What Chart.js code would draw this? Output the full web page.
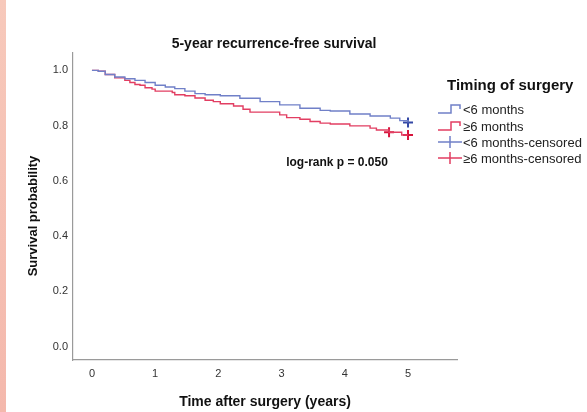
<!DOCTYPE html>
<html>
<head>
<meta charset="utf-8">
<script src="https://cdn.jsdelivr.net/npm/chart.js@4"></script>
<style>
  body { margin: 0; background: #fff; }
  canvas { display: block; }
</style>
</head>
<body>
<canvas id="kmChart" width="587" height="412"></canvas>
<script>
// values
var chartTitle = '5-year recurrence-free survival';
var xTitle = 'Time after surgery (years)';
var yTitle = 'Survival probability';
var legendTitle = 'Timing of surgery';
var legendLabels = ['<6 months', '\u22656 months', '<6 months-censored', '\u22656 months-censored'];
var pText = 'log-rank p = 0.050';

var xTicks = [0, 1, 2, 3, 4, 5];
var yTicks = [0, 0.2, 0.4, 0.6, 0.8, 1.0];

var earlyTimes = [0, 0.10, 0.21, 0.36, 0.52, 0.68, 0.84, 1.00, 1.16, 1.31, 1.47, 1.63, 1.79, 2.03, 2.34, 2.66, 2.97, 3.29, 3.61, 3.77, 4.08, 4.40, 4.72, 4.87, 5.00];
var earlySurv = [1.0, 0.997, 0.985, 0.976, 0.970, 0.964, 0.956, 0.946, 0.940, 0.934, 0.925, 0.916, 0.912, 0.908, 0.899, 0.887, 0.875, 0.863, 0.855, 0.853, 0.842, 0.835, 0.827, 0.818, 0.811];

var lateTimes = [0, 0.10, 0.21, 0.36, 0.52, 0.60, 0.68, 0.76, 0.84, 0.95, 1.00, 1.27, 1.31, 1.47, 1.63, 1.79, 1.92, 2.03, 2.24, 2.39, 2.50, 2.97, 3.08, 3.29, 3.45, 3.61, 3.77, 4.08, 4.40, 4.50, 4.70, 4.90, 5.00];
var lateSurv = [1.0, 0.997, 0.985, 0.973, 0.964, 0.956, 0.949, 0.946, 0.937, 0.932, 0.925, 0.920, 0.912, 0.908, 0.900, 0.892, 0.887, 0.879, 0.871, 0.859, 0.849, 0.839, 0.829, 0.823, 0.815, 0.809, 0.806, 0.799, 0.791, 0.784, 0.776, 0.766, 0.766];

var earlyCensorTimes = [5.00];
var earlyCensorSurv = [0.811];
var lateCensorTimes = [4.70, 5.00];
var lateCensorSurv = [0.776, 0.766];

var blueLine = 'rgb(112,128,200)';
var redLine = 'rgb(226,62,98)';
var blueMark = 'rgb(52,72,165)';
var redMark = 'rgb(215,20,60)';

function pts(xs, ys) {
    return xs.map(function (x, i) { return {x: x, y: ys[i]}; });
}

var textPlugin = {
    id: 'kmText',
    beforeDraw: function (chart) {
        var ctx = chart.ctx;
        var g = ctx.createLinearGradient(0, 0, 0, 412);
        g.addColorStop(0, '#f7c9bb');
        g.addColorStop(1, '#f4b8ac');
        ctx.save();
        ctx.fillStyle = g;
        ctx.fillRect(0, 0, 6, 412);
        ctx.restore();
    },
    afterDraw: function (chart) {
        var ctx = chart.ctx;
        ctx.save();
        ctx.fillStyle = '#111';
        ctx.textAlign = 'center';
        ctx.textBaseline = 'middle';

        ctx.font = 'bold 14px "Liberation Sans", Arial, sans-serif';
        ctx.fillText(chartTitle, 274, 44);

        ctx.font = 'bold 14px "Liberation Sans", Arial, sans-serif';
        ctx.fillText(xTitle, 265, 402);

        ctx.save();
        ctx.translate(33, 216);
        ctx.rotate(-Math.PI / 2);
        ctx.font = 'bold 13px "Liberation Sans", Arial, sans-serif';
        ctx.fillText(yTitle, 0, 0);
        ctx.restore();

        ctx.font = 'bold 12px "Liberation Sans", Arial, sans-serif';
        ctx.fillText(pText, 337, 163);

        // legend
        ctx.textAlign = 'left';
        ctx.font = 'bold 15px "Liberation Sans", Arial, sans-serif';
        ctx.fillText(legendTitle, 447, 86);

        ctx.font = '13px "Liberation Sans", Arial, sans-serif';
        var rows = [109, 126, 142, 158];
        var cols = [blueLine, redLine, blueLine, redLine];
        legendLabels.forEach(function (lab, i) {
            var y = rows[i];
            ctx.strokeStyle = cols[i];
            ctx.lineWidth = 1.5;
            ctx.beginPath();
            if (i < 2) {
                ctx.moveTo(438, y + 4);
                ctx.lineTo(451, y + 4);
                ctx.lineTo(451, y - 4);
                ctx.lineTo(460, y - 4);
                ctx.lineTo(460, y);
            } else {
                ctx.moveTo(438, y);
                ctx.lineTo(462, y);
                ctx.moveTo(450, y - 6);
                ctx.lineTo(450, y + 6);
            }
            ctx.stroke();
            ctx.fillStyle = '#222';
            ctx.fillText(lab, 463, y + 1);
        });
        ctx.restore();
    }
};

new Chart(document.getElementById('kmChart').getContext('2d'), {
    type: 'line',
    data: {
        datasets: [
            {
                label: legendLabels[0],
                data: pts(earlyTimes, earlySurv),
                borderColor: blueLine,
                borderWidth: 1.4,
                stepped: true,
                pointRadius: 0,
                fill: false
            },
            {
                label: legendLabels[1],
                data: pts(lateTimes, lateSurv),
                borderColor: redLine,
                borderWidth: 1.4,
                stepped: true,
                pointRadius: 0,
                fill: false
            },
            {
                label: legendLabels[2],
                data: pts(earlyCensorTimes, earlyCensorSurv),
                showLine: false,
                pointStyle: 'cross',
                pointRadius: 5,
                borderWidth: 2,
                borderColor: blueMark
            },
            {
                label: legendLabels[3],
                data: pts(lateCensorTimes, lateCensorSurv),
                showLine: false,
                pointStyle: 'cross',
                pointRadius: 5,
                borderWidth: 2,
                borderColor: redMark
            }
        ]
    },
    options: {
        responsive: false,
        animation: false,
        layout: { padding: { left: 0, top: 53, right: 130, bottom: 0 } },
        plugins: {
            legend: { display: false },
            tooltip: { enabled: false }
        },
        scales: {
            x: {
                type: 'linear',
                min: -0.30,
                max: 5.775,
                afterBuildTicks: function (s) { s.ticks = xTicks.map(function (v) { return {value: v}; }); },
                afterFit: function (s) { s.height = 52; },
                grid: { display: true, drawOnChartArea: false, drawTicks: false },
                border: { display: true, color: '#9a9a9a', width: 1.2 },
                ticks: {
                    padding: 7,
                    color: '#333',
                    font: { family: '"Liberation Sans", Arial, sans-serif', size: 11 },
                    callback: function (v) { return String(v); }
                }
            },
            y: {
                type: 'linear',
                min: -0.049,
                max: 1.063,
                afterBuildTicks: function (s) { s.ticks = yTicks.map(function (v) { return {value: v}; }); },
                afterFit: function (s) { s.width = 73; },
                grid: { display: true, drawOnChartArea: false, drawTicks: false },
                border: { display: true, color: '#9a9a9a', width: 1.2 },
                ticks: {
                    padding: 5,
                    color: '#333',
                    font: { family: '"Liberation Sans", Arial, sans-serif', size: 11 },
                    callback: function (v) { return Number(v).toFixed(1); }
                }
            }
        }
    },
    plugins: [textPlugin]
});
</script>
</body>
</html>
